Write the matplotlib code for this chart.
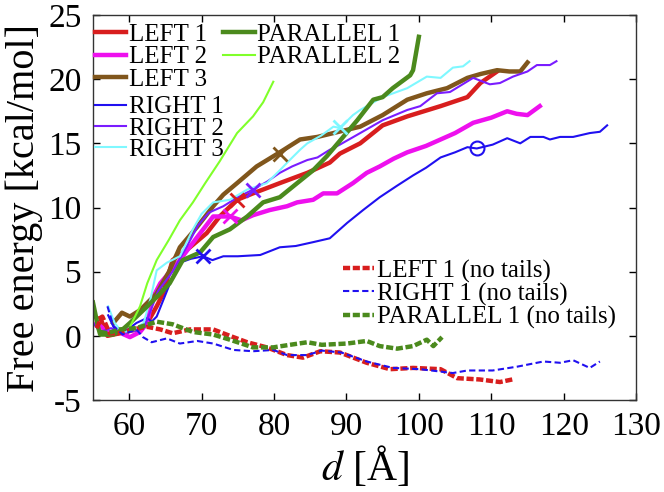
import matplotlib
matplotlib.use('Agg')
import matplotlib.pyplot as plt
from matplotlib.lines import Line2D

plt.rcParams['font.family'] = ['Liberation Serif', 'DejaVu Serif']
plt.rcParams['mathtext.fontset'] = 'stix'

# ---------------- data ----------------
left1_x = [56, 57, 58.7, 61, 62.5, 63.8, 64.7, 66, 68.4, 70.7, 72.5, 74.9, 77.1, 80.8, 84.6, 87.7,
           89.1, 91.9, 95, 98.4, 103, 106.7, 108.5, 110.8]
left1_y = [1.4, 0.0, 0.2, 0.5, 1.0, 2.3, 3.3, 5.9, 6.9, 8.0, 9.3, 10.6, 11.1, 11.9, 12.7, 13.5,
           14.2, 15.0, 16.4, 17.1, 17.9, 18.6, 19.7, 20.6]

left2_x = [55.5, 57, 58.5, 60.1, 61.5, 62.5, 63.1, 64.3, 67, 69.4, 71.6, 73.9, 75.5, 77.1, 79.4, 81.8,
           83.2, 85.4, 86.8, 88.7, 90.9, 92.8, 94.6, 96.5, 98.4, 101, 103, 105, 107.5, 110, 112.2,
           113.5, 115, 116.7]
left2_y = [1.0, 0.3, 0.3, -0.1, 0.3, 1.0, 2.8, 4.1, 5.9, 7.7, 9.3, 9.3, 9.0, 9.4, 9.8, 10.1,
           10.4, 10.6, 11.1, 11.1, 11.9, 12.7, 13.2, 13.8, 14.3, 14.8, 15.3, 15.8, 16.6, 17.0, 17.5,
           17.3, 17.2, 17.9]

left3_x = [57.8, 59, 60.1, 61.5, 63.8, 65.5, 67, 69.4, 71.6, 73, 74.9, 77.6, 80.8, 83.6, 86, 88.2,
           91.9, 95, 98.4, 101.1, 103.9, 106.7, 108.5, 110.8, 112.5, 114, 115]
left3_y = [1.0, 1.8, 1.5, 2.0, 3.3, 5.0, 6.9, 8.5, 10.1, 11.0, 11.9, 13.2, 14.3, 15.3, 15.5, 15.8,
           16.3, 17.2, 18.4, 18.9, 19.3, 20.1, 20.4, 20.7, 20.6, 20.6, 21.3]

right1_x = [57.1, 58, 59.1, 61, 62.5, 63.1, 63.8, 66, 67, 68.5, 70.2, 71.5, 73, 75, 78.1, 80.8,
            83, 85.4, 87.7, 90.1, 92.3, 94.6, 97, 99.2, 101, 103, 105, 106.7, 108, 110.2, 112.2,
            114, 115.4, 117.2, 118.1, 119.5, 121.3, 123.6, 125, 126]
right1_y = [1.6, 0.5, 0.2, 1.0, 1.4, 1.1, 1.5, 4.6, 5.7, 6.0, 6.2, 5.9, 6.2, 6.2, 6.3, 6.9,
            7.0, 7.3, 7.6, 8.8, 9.8, 10.8, 11.7, 12.5, 13.1, 13.9, 14.3, 14.7, 14.6, 14.9, 15.4,
            15.0, 15.5, 15.5, 15.3, 15.5, 15.5, 15.8, 15.9, 16.4]

right2_x = [55, 56, 57.5, 59, 61, 62, 63, 64, 66, 68, 69.5, 71, 73, 75, 77.1, 79, 80.8, 82.5, 84.6,
            86, 87.7, 89.1, 91.9, 95, 98.4, 100.2, 102.5, 104.3, 107.5, 109.8, 111.2, 113, 115,
            116.3, 118.1, 119]
right2_y = [1.0, 0.3, 0.6, 0.2, 0.4, 0.6, 2.0, 3.5, 5.0, 7.0, 8.6, 9.6, 10.1, 10.8, 11.4, 12.0,
            12.7, 13.2, 13.7, 13.9, 14.5, 14.9, 15.8, 16.8, 17.6, 17.9, 18.9, 19.0, 20.1, 19.6,
            19.7, 20.2, 20.6, 21.1, 21.1, 21.4]

right3_x = [57.1, 58, 59, 60.5, 62, 63, 63.8, 65.2, 67, 68.8, 70, 71.6, 73.9, 76.3, 79, 80.8, 82,
            83.6, 84.6, 86.5, 88.2, 89.1, 90.9, 91.9, 95, 98.4, 101.1, 103, 104.7, 106.1, 107]
right3_y = [2.3, 1.0, 0.3, 0.4, 1.0, 3.0, 5.1, 5.7, 6.2, 8.3, 9.5, 10.4, 10.6, 11.4, 11.9, 12.9,
            13.6, 14.5, 15.0, 15.6, 16.3, 16.2, 17.2, 17.6, 18.6, 19.3, 20.2, 20.1, 20.9, 21.0, 21.4]

par1_x = [55, 55.7, 56, 57.8, 59.1, 60.1, 62.5, 64.3, 65.6, 67.4, 69.8, 71.6, 73.9, 76.3, 78.5,
          80.8, 83.2, 85.4, 87.3, 89.1, 91.5, 93.7, 95, 96.4, 98.8, 99.2, 100]
par1_y = [2.6, 0.7, 0.1, 0.1, 0.5, 1.0, 2.3, 3.3, 4.1, 5.9, 6.5, 7.7, 8.3, 9.3, 10.4,
          10.8, 11.9, 12.9, 14.0, 15.2, 16.8, 18.4, 18.6, 19.3, 20.3, 20.7, 23.3]

par2_x = [60.1, 61.5, 62.5, 63.8, 65.5, 67, 68.8, 70.5, 72.5, 74.9, 77.1, 78.5, 79.9]
par2_y = [0.7, 2.3, 4.1, 5.9, 7.5, 9.0, 10.4, 11.9, 13.6, 15.8, 17.1, 18.2, 19.8]

left1nt_x = [55.5, 56.3, 57.3, 58.5, 60.5, 62.5, 64.3, 66, 68.4, 71.6, 73.9, 76.3, 79, 81.8, 84,
             86.4, 89.1, 92.8, 96, 99.2, 103, 105.3, 108.4, 111.2, 112.9]
left1nt_y = [0.6, 1.5, 0.2, 0.2, 0.5, 0.7, 0.5, 0.2, 0.5, 0.5, 0.0, -0.5, -0.9, -1.5, -1.7,
             -1.2, -1.3, -2.1, -2.6, -2.5, -2.6, -3.3, -3.4, -3.6, -3.4]

right1nt_x = [57, 57.8, 59.1, 61, 61.9, 63.1, 65.2, 67, 69.4, 71.6, 74.4, 77.1, 79.9, 81.8, 84.6,
              86.6, 89.3, 92.8, 96.4, 100.2, 104.7, 106.7, 110.2, 113.6, 117.2, 119.5, 121.3,
              123.6, 125]
right1nt_y = [2.3, 0.8, 0.1, 0.5, -0.1, -0.5, -0.2, -0.6, -0.4, -0.6, -1.1, -1.2, -1.1, -1.5, -1.5,
              -1.15, -1.3, -2.0, -2.5, -2.6, -2.9, -2.7, -2.7, -2.4, -2.0, -2.1, -1.9, -2.5, -2.0]

par1nt_x = [56, 57, 58.7, 61, 63.8, 66, 68.8, 71.6, 73.9, 77.1, 79.9, 82.2, 84.6, 86.6, 90.1, 92.8,
            94.6, 97, 99.2, 101.1, 102, 103.2]
par1nt_y = [0.3, 0.2, 0.5, 0.6, 1.1, 0.9, 0.3, 0.1, -0.3, -0.9, -0.9, -0.7, -0.5, -0.7, -0.6, -0.4,
            -0.8, -1.0, -0.8, -0.3, -0.8, -0.1]

cross_x = [74.9, 73.9, 80.8, 70.2, 77.1, 89.1]
cross_y = [10.6, 9.3, 14.2, 6.2, 11.4, 16.3]
circle_x = [108.0]
circle_y = [14.6]

xticks = [60, 70, 80, 90, 100, 110, 120, 130]
yticks = [-5, 0, 5, 10, 15, 20, 25]

# ---------------- style ----------------
c_red = '#d81e1e'
c_mag = '#ee10ee'
c_brown = '#80561c'
c_blue = '#2010f0'
c_purple = '#7a1cff'
c_cyan = '#7ff8ff'
c_dgreen = '#4b8a1d'
c_lgreen = '#80ff2a'

fig = plt.figure(figsize=(6.64, 4.92), dpi=100)
ax = fig.add_axes([0.140, 0.187, 0.818, 0.7825])

thick = 3.2
thin = 1.5

l_left1, = ax.plot(left1_x, left1_y, color=c_red, lw=thick, label='LEFT 1')
l_left2, = ax.plot(left2_x, left2_y, color=c_mag, lw=thick, label='LEFT 2')
l_left3, = ax.plot(left3_x, left3_y, color=c_brown, lw=thick, label='LEFT 3')
l_r1, = ax.plot(right1_x, right1_y, color=c_blue, lw=thin, label='RIGHT 1')
l_r2, = ax.plot(right2_x, right2_y, color=c_purple, lw=thin, label='RIGHT 2')
l_r3, = ax.plot(right3_x, right3_y, color=c_cyan, lw=thin, label='RIGHT 3')
l_p1, = ax.plot(par1_x, par1_y, color=c_dgreen, lw=thick, label='PARALLEL 1')
l_p2, = ax.plot(par2_x, par2_y, color=c_lgreen, lw=thin, label='PARALLEL 2')

l_nt1, = ax.plot(left1nt_x, left1nt_y, color=c_red, lw=thick, dashes=(1.6, 0.6),
                 label='LEFT 1 (no tails)')
l_nt2, = ax.plot(right1nt_x, right1nt_y, color=c_blue, lw=thin, dashes=(3.0, 1.6),
                 label='RIGHT 1 (no tails)')
l_nt3, = ax.plot(par1nt_x, par1nt_y, color=c_dgreen, lw=thick, dashes=(1.6, 0.6),
                 label='PARALLEL 1 (no tails)')

cross_colors = [c_red, c_mag, c_brown, c_blue, c_purple, c_cyan]
for cx, cy, cc in zip(cross_x, cross_y, cross_colors):
    ax.plot([cx], [cy], marker='x', ms=10, mew=2, color=cc, ls='none')
ax.plot(circle_x, circle_y, marker='o', ms=10, mfc='none', mec=c_blue, mew=1.5, ls='none')

ax.set_xlim(55, 130)
ax.set_ylim(-5, 25)
ax.set_xticks(xticks)
ax.set_xticklabels([str(v) for v in xticks])
ax.set_yticks(yticks)
ax.set_yticklabels([str(v) for v in yticks])
ax.tick_params(direction='in', top=True, right=True, length=5, width=1, labelsize=24, pad=8)
for s in ax.spines.values():
    s.set_linewidth(1.0)
    s.set_color('#333333')

ax.set_xlabel(r'$d$ [Å]', fontsize=30, labelpad=2)
ax.set_ylabel('Free energy [kcal/mol]', fontsize=29, labelpad=4)

leg_kw = dict(frameon=False, fontsize=18, handlelength=1.25, handletextpad=0.1,
              borderpad=0, borderaxespad=0)

leg1 = ax.legend(handles=[l_left1, l_left2, l_left3, l_p1, l_p2], ncol=2, loc='upper left',
                 bbox_to_anchor=(0.004, 0.978), columnspacing=0.65, labelspacing=0.0, **leg_kw)
ax.add_artist(leg1)
leg2 = ax.legend(handles=[l_r1, l_r2, l_r3], loc='upper left',
                 bbox_to_anchor=(0.004, 0.79), labelspacing=-0.05, **leg_kw)
ax.add_artist(leg2)
leg3 = ax.legend(handles=[l_nt1, l_nt2, l_nt3], loc='upper left',
                 bbox_to_anchor=(0.460, 0.365), labelspacing=0.0, **leg_kw)

fig.savefig('out.png', dpi=100)
